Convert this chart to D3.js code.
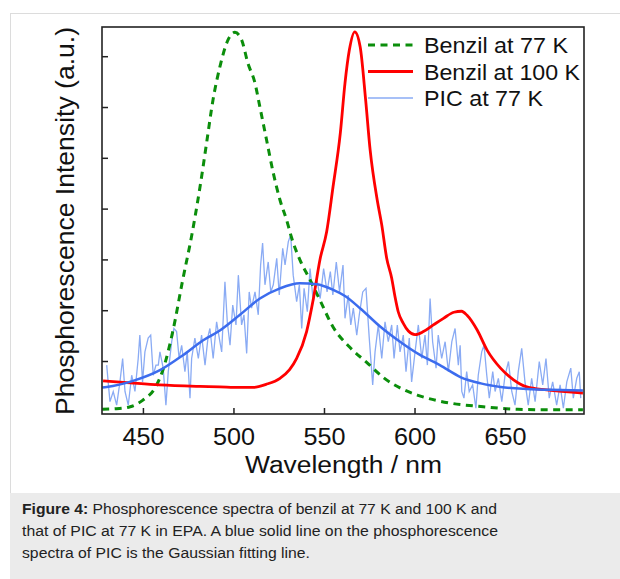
<!DOCTYPE html>
<html>
<head>
<meta charset="utf-8">
<script src="https://cdn.jsdelivr.net/npm/d3@7"></script>
<style>
  body { margin: 0; background: #fff; }
  text { font-family: "Liberation Sans", Arial, sans-serif; }
</style>
</head>
<body>
<svg id="chart" width="620" height="579"></svg>
<script>
// spectra: [wavelength nm, intensity a.u.]
var benzil77 = [
    [427.5, 0.05], [435, 0.06], [443, 0.1], [450, 0.23], [457, 0.49], [461, 0.82],
    [466.6, 1.6], [472, 2.6], [477, 3.48], [481.5, 4.42], [485.4, 5.35], [488.7, 6.14],
    [492.5, 6.79], [497, 7.32], [500.8, 7.47], [504.5, 7.32], [508, 6.86], [511.9, 6.47],
    [514.6, 6.0], [518.3, 5.35], [522, 4.7], [525.7, 4.17], [529.4, 3.77], [532, 3.44],
    [536.7, 2.99], [542, 2.62], [548, 2.18], [555, 1.67], [564, 1.28], [574, 0.96],
    [583, 0.67], [592, 0.47], [601.5, 0.33], [620, 0.17], [638, 0.1], [657, 0.05],
    [675, 0.04], [693, 0.04]
];

var benzil100 = [
    [428, 0.61], [443, 0.57], [459, 0.53], [481.5, 0.5], [492.5, 0.49], [503.6, 0.48],
    [511, 0.48], [518, 0.54], [525.7, 0.66], [531, 0.83], [534.9, 1.05], [540.4, 1.58],
    [544, 2.2], [547.8, 3.0], [551.5, 3.55], [555, 4.43], [559, 5.48], [561.6, 6.47],
    [564, 7.12], [567, 7.48], [570, 7.18], [573, 6.14], [575.5, 5.15], [579.4, 4.17],
    [581.9, 3.68], [584.6, 3.03], [587.4, 2.63], [589.2, 2.27], [591, 1.97], [593.8, 1.74],
    [596.6, 1.59], [600.3, 1.52], [604.9, 1.58], [610.4, 1.71], [616, 1.84], [621.7, 1.96],
    [626, 1.98], [629, 1.9], [634.6, 1.61], [640, 1.22], [647.5, 0.86], [654.7, 0.63],
    [662, 0.49], [673, 0.43], [693, 0.37]
];

var picRaw = [
    [430.0, 0.92], [430.8, 0.59], [431.8, 0.20], [433.6, 0.40], [435.5, 0.13], [437.3, 0.59],
    [438.8, 1.05], [440.1, 0.40], [441.9, 0.13], [443.8, 0.72], [445.6, 0.40], [447.4, 1.05],
    [448.3, 1.51], [449.8, 0.59], [451.1, 1.18], [452.9, 1.45], [454.3, 1.51], [455.7, 0.72],
    [457.2, 0.92], [458.5, 0.92], [459.4, 1.18], [461.2, 0.86], [462.7, 0.13], [464.0, 0.79],
    [465.9, 1.38], [467.1, 1.64], [468.6, 1.58], [470.0, 1.05], [471.4, 1.31], [473.2, 0.79],
    [474.5, 1.18], [476.0, 0.27], [476.9, 1.05], [478.7, 1.45], [480.6, 1.05], [482.4, 1.51],
    [484.3, 0.92], [486.1, 1.51], [487.0, 1.64], [488.8, 1.05], [490.7, 1.77], [492.5, 1.38],
    [493.5, 1.18], [495.3, 2.56], [496.6, 1.77], [498.1, 1.31], [499.6, 2.10], [501.4, 1.71],
    [502.7, 2.69], [504.5, 1.71], [505.8, 1.91], [507.3, 1.15], [508.7, 2.36], [510.0, 2.04],
    [511.9, 2.36], [513.7, 1.91], [515.0, 2.89], [516.1, 3.32], [517.4, 2.50], [519.2, 2.95],
    [520.6, 2.36], [522.0, 2.50], [523.9, 3.02], [525.3, 2.30], [527.2, 3.22], [528.5, 2.89],
    [530.3, 3.35], [531.6, 3.48], [533.0, 2.69], [534.9, 2.17], [536.4, 2.50], [537.7, 1.64],
    [539.0, 2.43], [540.8, 1.97], [542.3, 2.82], [544.1, 2.17], [546.0, 2.63], [547.9, 2.23],
    [549.8, 2.82], [551.7, 2.36], [553.5, 2.76], [554.9, 2.30], [556.8, 2.95], [558.6, 2.36],
    [560.5, 2.89], [561.6, 1.84], [563.4, 2.30], [564.8, 1.71], [566.2, 2.04], [568.1, 1.51],
    [569.5, 1.91], [571.4, 2.36], [573.2, 2.43], [575.0, 1.45], [576.9, 0.53], [578.2, 1.18],
    [580.0, 1.71], [581.9, 1.05], [583.7, 1.77], [585.5, 1.38], [587.4, 1.71], [588.7, 1.05],
    [590.5, 1.71], [592.0, 1.18], [593.8, 1.51], [595.3, 0.79], [597.1, 1.45], [598.4, 0.59],
    [600.3, 1.18], [602.1, 1.71], [604.0, 1.05], [605.8, 1.51], [607.1, 0.92], [608.6, 2.23],
    [610.0, 1.38], [611.9, 0.86], [613.1, 1.51], [615.0, 1.05], [616.9, 1.38], [618.7, 0.79],
    [620.6, 1.38], [622.4, 1.64], [624.2, 0.92], [625.2, 1.31], [626.1, 0.40], [627.3, 0.27],
    [628.8, 0.79], [630.2, 0.40], [632.1, 0.53], [633.9, 0.07], [635.2, 0.72], [637.1, 1.18],
    [638.4, 1.31], [639.9, 0.72], [641.3, 0.27], [643.2, 0.79], [644.5, 0.40], [646.3, 0.66],
    [648.2, 0.20], [650.0, 0.72], [651.9, 0.99], [653.7, 0.40], [655.5, 0.13], [657.3, 0.79],
    [659.2, 1.25], [661.0, 0.59], [662.8, 0.13], [664.7, 0.66], [666.6, 0.20], [668.9, 0.99],
    [670.8, 0.53], [672.6, 1.05], [674.4, 0.27], [676.3, 0.59], [678.5, 0.13], [680.4, 0.53],
    [682.2, 0.07], [684.1, 0.59], [686.3, 0.86], [687.7, 0.27], [689.6, 0.66], [691.0, 0.79],
    [691.8, 0.27]
];

var picFit = [
    [427.5, 0.48], [430, 0.49], [444.6, 0.61], [459.4, 0.82], [472.3, 1.12], [483.3, 1.41],
    [492.5, 1.6], [503.6, 1.91], [514.6, 2.23], [525.7, 2.43], [536.7, 2.53], [546, 2.51],
    [555.1, 2.4], [561.6, 2.28], [569.9, 2.04], [581, 1.68], [592, 1.38], [603, 1.12],
    [614, 0.92], [625.6, 0.68], [636.6, 0.56], [647.6, 0.49], [662, 0.45], [680.4, 0.43],
    [693, 0.42]
];

var xTicks = [450, 500, 550, 600, 650];
var yTicks = [1, 2, 3, 4, 5, 6, 7];
var legendLabels = ["Benzil at 77 K", "Benzil at 100 K", "PIC at 77 K"];
var captionLines = [
    "Phosphorescence spectra of benzil at 77 K and 100 K and",
    "that of PIC at 77 K in EPA. A blue solid line on the phosphorescence",
    "spectra of PIC is the Gaussian fitting line."
];

var svg = d3.select("#chart");

var plotL = 102, plotR = 584, plotT = 27, plotB = 414;

var x = d3.scaleLinear().domain([427.4, 693.6]).range([plotL, plotR]);
var y = d3.scaleLinear().domain([-0.043, 7.575]).range([plotB, plotT]);

// outer figure frame + caption box
svg.append("rect")
    .attr("x", 10.5).attr("y", 13.5)
    .attr("width", 620).attr("height", 600)
    .attr("fill", "none").attr("stroke", "#dcdcdc");
svg.append("rect")
    .attr("x", 10).attr("y", 493)
    .attr("width", 610).attr("height", 86)
    .attr("fill", "#ebebeb");

var line = d3.line()
    .x(function(d) { return x(d[0]); })
    .y(function(d) { return y(d[1]); });

var smooth = d3.line()
    .curve(d3.curveMonotoneX)
    .x(function(d) { return x(d[0]); })
    .y(function(d) { return y(d[1]); });

svg.append("defs").append("clipPath").attr("id", "plot")
    .append("rect")
    .attr("x", plotL).attr("y", plotT)
    .attr("width", plotR - plotL).attr("height", plotB - plotT);

var plot = svg.append("g").attr("clip-path", "url(#plot)");

plot.append("path").datum(picRaw)
    .attr("d", line)
    .attr("fill", "none")
    .attr("stroke", "#8aabf4")
    .attr("stroke-width", 1.3);

plot.append("path").datum(benzil77)
    .attr("d", smooth)
    .attr("fill", "none")
    .attr("stroke", "#0b8e0b")
    .attr("stroke-width", 3)
    .attr("stroke-dasharray", "7,5.5");

plot.append("path").datum(benzil100)
    .attr("d", smooth)
    .attr("fill", "none")
    .attr("stroke", "#ff0000")
    .attr("stroke-width", 2.8);

plot.append("path").datum(picFit)
    .attr("d", smooth)
    .attr("fill", "none")
    .attr("stroke", "#3c6cee")
    .attr("stroke-width", 2.5);

// axes, ticks inside
var xAxis = svg.append("g")
    .attr("transform", "translate(0," + plotB + ")")
    .call(d3.axisBottom(x).tickValues(xTicks).tickSize(-6).tickPadding(15).tickFormat(d3.format("d")));
xAxis.select(".domain").remove();
xAxis.selectAll("line").attr("stroke", "#222").attr("stroke-width", 1.5);
xAxis.selectAll("text")
    .attr("font-size", 23)
    .attr("fill", "#111")
    .attr("font-family", "Liberation Sans, Arial, sans-serif")
    .attr("textLength", 42)
    .attr("lengthAdjust", "spacingAndGlyphs");

var yAxis = svg.append("g")
    .attr("transform", "translate(" + plotL + ",0)")
    .call(d3.axisLeft(y).tickValues(yTicks).tickSize(-6).tickFormat(""));
yAxis.select(".domain").remove();
yAxis.selectAll("line").attr("stroke", "#222").attr("stroke-width", 1.5);

svg.append("rect")
    .attr("x", plotL).attr("y", plotT)
    .attr("width", plotR - plotL).attr("height", plotB - plotT)
    .attr("fill", "none")
    .attr("stroke", "#222")
    .attr("stroke-width", 1.6);

// axis titles
svg.append("text")
    .attr("x", 245)
    .attr("y", 473)
    .attr("font-size", 23)
    .attr("fill", "#111")
    .attr("textLength", 197)
    .attr("lengthAdjust", "spacingAndGlyphs")
    .text("Wavelength / nm");

svg.append("text")
    .attr("transform", "translate(74,415) rotate(-90)")
    .attr("font-size", 25)
    .attr("fill", "#111")
    .attr("textLength", 388)
    .attr("lengthAdjust", "spacingAndGlyphs")
    .text("Phosphorescence Intensity (a.u.)");

// legend
var legendStyles = [
    { color: "#0b8e0b", width: 3, dash: "7,5.5", len: 144 },
    { color: "#ff0000", width: 2.8, dash: null, len: 156 },
    { color: "#8aabf4", width: 1.6, dash: null, len: 119 }
];
var legend = svg.append("g");
legendLabels.forEach(function(label, i) {
    var cy = 45 + i * 26.5;
    legend.append("line")
        .attr("x1", 368).attr("x2", 413)
        .attr("y1", cy).attr("y2", cy)
        .attr("stroke", legendStyles[i].color)
        .attr("stroke-width", legendStyles[i].width)
        .attr("stroke-dasharray", legendStyles[i].dash);
    legend.append("text")
        .attr("x", 424).attr("y", cy + 8)
        .attr("font-size", 22)
        .attr("fill", "#111")
        .attr("textLength", legendStyles[i].len)
        .attr("lengthAdjust", "spacingAndGlyphs")
        .text(label);
});

// caption
var captionLens = [475, 476, 288];
captionLines.forEach(function(txt, i) {
    var t = svg.append("text")
        .attr("x", 22)
        .attr("y", 513.5 + i * 22)
        .attr("font-size", 15.5)
        .attr("fill", "#222")
        .attr("textLength", captionLens[i])
        .attr("lengthAdjust", "spacingAndGlyphs");
    if (i === 0) {
        t.append("tspan").attr("font-weight", "bold").text("Figure 4:");
        t.append("tspan").text(" " + txt);
    } else {
        t.text(txt);
    }
});
</script>
</body>
</html>
